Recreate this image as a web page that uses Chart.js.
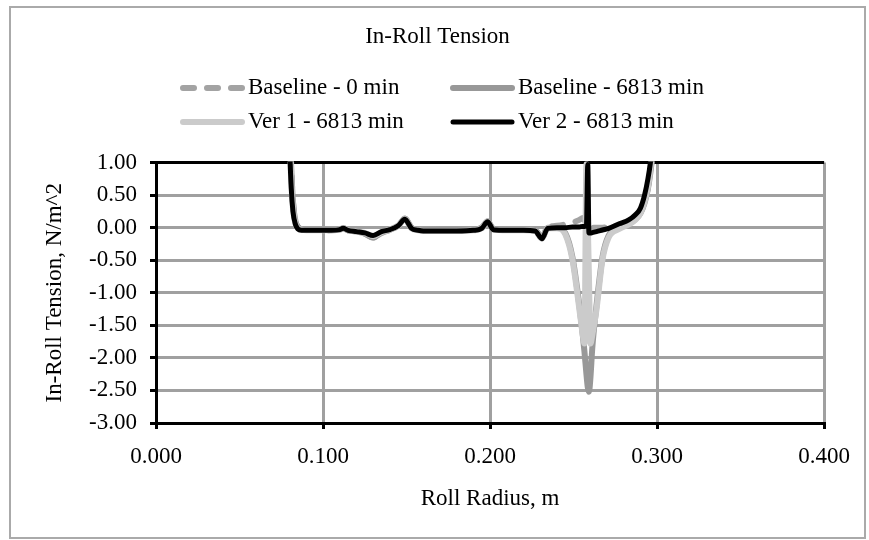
<!DOCTYPE html>
<html>
<head>
<meta charset="utf-8">
<script src="https://cdn.jsdelivr.net/npm/chart.js@4.4.0/dist/chart.umd.min.js"></script>
<style>
  html, body { margin: 0; padding: 0; background: #fff; }
  body { width: 869px; height: 540px; position: relative; overflow: hidden; }
  #frame { position: absolute; left: 9px; top: 6px; width: 853px; height: 529px; border: 2px solid #aaa; background: #fff; }
  #frame canvas { display: block; }
</style>
</head>
<body>
<div id="frame"><canvas id="tension" width="853" height="529"></canvas></div>
<script>
// roll radius (m), shared by all four series
const radius = [
  0.0790, 0.0800, 0.0810, 0.0820, 0.0835, 0.0850, 0.0870, 0.0900, 0.0950, 0.1000,
  0.1050, 0.1100, 0.1120, 0.1150, 0.1200, 0.1250, 0.1300, 0.1350, 0.1400, 0.1450,
  0.1490, 0.1530, 0.1570, 0.1600, 0.1700, 0.1800, 0.1900, 0.1950, 0.1985, 0.2020,
  0.2100, 0.2200, 0.2270, 0.2310, 0.2345, 0.2400, 0.2450, 0.2493, 0.2535, 0.2555,
  0.2565, 0.2577, 0.2585, 0.2592, 0.2601, 0.2612, 0.2637, 0.2673, 0.2710, 0.2773,
  0.2830, 0.2870, 0.2900, 0.2925, 0.2945, 0.2960, 0.2980
];

// in-roll tension, N/m^2
const baseline0 = [
  3.0, 1.7, 0.9, 0.4, 0.1, 0.01, -0.02, -0.03, -0.03, -0.03,
  -0.04, -0.03, -0.01, -0.04, -0.06, -0.09, -0.15, -0.08, -0.03, 0.03,
  0.14, 0.0, -0.03, -0.04, -0.03, -0.03, -0.03, 0.0, 0.1, -0.02,
  -0.03, -0.03, -0.04, -0.15, 0.0, 0.03, 0.05, 0.08, 0.12, 0.15,
  0.12, 0.06, 0.03, 0.01, 0.0, 0.0, 0.0, 0.0, 0.01, 0.02,
  0.08, 0.15, 0.24, 0.4, 0.62, 0.88, 1.35
];
const baseline6813 = [
  3.0, 1.7, 0.9, 0.4, 0.1, 0.01, -0.02, -0.03, -0.03, -0.03,
  -0.04, -0.03, -0.01, -0.04, -0.06, -0.09, -0.15, -0.08, -0.03, 0.03,
  0.14, 0.0, -0.03, -0.04, -0.03, -0.03, -0.03, 0.0, 0.1, -0.02,
  -0.03, -0.03, -0.04, -0.15, 0.0, 0.0, -0.08, -0.45, -1.2, -1.65,
  -1.9, -2.25, -2.45, -2.52, -2.3, -1.85, -1.2, -0.45, -0.12, 0.0,
  0.06, 0.13, 0.22, 0.38, 0.6, 0.85, 1.3
];
const ver1 = [
  3.0, 1.5, 0.7, 0.3, 0.06, -0.01, -0.03, -0.04, -0.04, -0.04,
  -0.04, -0.03, -0.01, -0.04, -0.06, -0.08, -0.13, -0.07, -0.03, 0.03,
  0.13, -0.01, -0.04, -0.05, -0.05, -0.05, -0.04, -0.01, 0.09, -0.03,
  -0.04, -0.04, -0.05, -0.17, -0.01, -0.01, -0.10, -0.49, -1.26, -1.65,
  -1.78, 0.98, 0.07, -0.74, -1.78, -1.65, -1.26, -0.49, -0.15, -0.02,
  0.05, 0.12, 0.22, 0.4, 0.62, 0.9, 1.35
];
const ver2 = [
  3.0, 1.3, 0.6, 0.25, 0.05, -0.02, -0.04, -0.04, -0.04, -0.04,
  -0.04, -0.03, -0.01, -0.04, -0.06, -0.08, -0.12, -0.06, -0.03, 0.03,
  0.13, -0.01, -0.04, -0.05, -0.05, -0.05, -0.04, -0.01, 0.09, -0.03,
  -0.04, -0.04, -0.05, -0.17, -0.01, 0.0, 0.0, 0.01, 0.01, 0.02,
  0.02, 0.03, 0.97, -0.08, -0.08, -0.075, -0.06, -0.035, -0.01, 0.06,
  0.12, 0.2, 0.3, 0.5, 0.75, 1.0, 1.5
];

const seriesNames = ['Baseline - 0 min', 'Baseline - 6813 min', 'Ver 1 - 6813 min', 'Ver 2 - 6813 min'];
const xTicks = [0, 0.1, 0.2, 0.3, 0.4];
const yTicks = [-3, -2.5, -2, -1.5, -1, -0.5, 0, 0.5, 1];

const FONT = "'Liberation Serif', 'Times New Roman', serif";
Chart.defaults.font.family = FONT;
Chart.defaults.font.size = 23;
Chart.defaults.color = '#000';

const pts = arr => radius.map((r, i) => ({ x: r, y: arr[i] }));

// excel style legend, two fixed columns
const legendSlots = [
  { x: 169, y: 80 }, { x: 439, y: 80 },
  { x: 169, y: 114 }, { x: 439, y: 114 }
];
const excelLegend = {
  id: 'excelLegend',
  afterDraw(chart) {
    const ctx = chart.ctx;
    chart.data.datasets.forEach((ds, i) => {
      const s = legendSlots[i];
      ctx.save();
      ctx.strokeStyle = ds.borderColor;
      ctx.lineWidth = ds.borderWidth;
      ctx.lineCap = 'round';
      ctx.setLineDash(ds.borderDash || []);
      ctx.beginPath();
      ctx.moveTo(s.x + 3, s.y);
      ctx.lineTo(s.x + 62, s.y);
      ctx.stroke();
      ctx.setLineDash([]);
      ctx.fillStyle = '#000';
      ctx.font = '23px ' + FONT;
      ctx.textBaseline = 'middle';
      ctx.fillText(ds.label, s.x + 68, s.y);
      ctx.restore();
    });
  }
};

const lineBase = { pointRadius: 0, cubicInterpolationMode: 'monotone', borderCapStyle: 'round', borderJoinStyle: 'round', clip: 1 };

new Chart(document.getElementById('tension'), {
  type: 'line',
  data: {
    datasets: [
      { ...lineBase, label: seriesNames[0], data: pts(baseline0), borderColor: '#a3a3a3', borderWidth: 6, borderDash: [11, 13], order: 4 },
      { ...lineBase, label: seriesNames[1], data: pts(baseline6813), borderColor: '#989898', borderWidth: 6, order: 3 },
      { ...lineBase, label: seriesNames[2], data: pts(ver1), borderColor: '#cbcbcb', borderWidth: 6, order: 2 },
      { ...lineBase, label: seriesNames[3], data: pts(ver2), borderColor: '#000000', borderWidth: 5, order: 1 }
    ]
  },
  options: {
    responsive: false,
    animation: false,
    layout: { padding: 0 },
    plugins: {
      legend: { display: false },
      tooltip: { enabled: false },
      title: {
        display: true,
        text: 'In-Roll Tension',
        font: { size: 23, weight: 'normal' },
        color: '#000',
        padding: { top: 15, bottom: 112 }
      }
    },
    scales: {
      x: {
        type: 'linear',
        min: 0, max: 0.4,
        afterBuildTicks: s => { s.ticks = xTicks.map(v => ({ value: v })); },
        afterFit: s => { s.height = 114; },
        ticks: { callback: v => v.toFixed(3), padding: 14, maxRotation: 0, autoSkip: false },
        grid: { color: '#a0a0a0', lineWidth: 3, tickColor: '#000', tickLength: 6, tickWidth: 3 },
        border: { color: '#000', width: 3 },
        title: { display: true, text: 'Roll Radius, m', padding: { top: 0, bottom: 24 } }
      },
      y: {
        min: -3, max: 1,
        afterBuildTicks: s => { s.ticks = yTicks.map(v => ({ value: v })); },
        afterFit: s => { s.width = 145; },
        ticks: { callback: v => v.toFixed(2), padding: 13, autoSkip: false },
        grid: {
          color: c => (c.tick && c.tick.value === 1 ? '#000' : '#a0a0a0'),
          lineWidth: 3, tickColor: '#000', tickLength: 6, tickWidth: 3
        },
        border: { color: '#000', width: 3 },
        title: { display: true, text: 'In-Roll Tension, N/m^2', padding: { top: 30, bottom: 0 } }
      },
      // empty right-hand strip so the plot ends where the reference does
      yRight: {
        type: 'linear',
        position: 'right',
        display: true,
        grid: { display: false, drawTicks: false },
        border: { display: false },
        ticks: { display: false },
        afterFit: s => { s.width = 39; }
      }
    }
  },
  plugins: [excelLegend]
});
</script>
</body>
</html>
